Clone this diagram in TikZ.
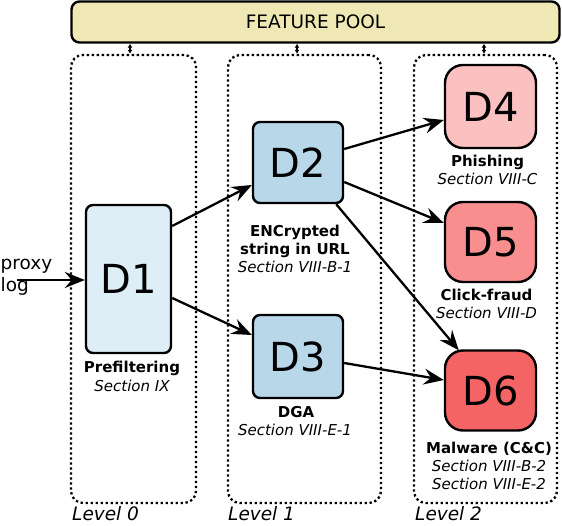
\documentclass[tikz,border=0pt]{standalone}
\usepackage{fontspec}
\setmainfont{DejaVu Sans}
\usetikzlibrary{arrows.meta}
\definecolor{poolfill}{HTML}{EFE8B4}
\definecolor{dA}{HTML}{DDEEF6}
\definecolor{dB}{HTML}{B8D8EA}
\definecolor{dC}{HTML}{FBC0C0}
\definecolor{dD}{HTML}{F98E8E}
\definecolor{dE}{HTML}{F46464}
\begin{document}
\begin{tikzpicture}[x=1pt,y=-1pt,
  lvl/.style={draw,line width=2.3pt,dash pattern=on 2.3pt off 2.7pt,rounded corners=12pt,inner sep=0pt},
  detb/.style={draw,line width=2.4pt,inner sep=0pt,rounded corners=7pt,minimum width=90pt,font=\fontsize{40}{40}\selectfont},
  detr/.style={draw,line width=2.4pt,inner sep=0pt,rounded corners=18pt,minimum width=91pt,font=\fontsize{40}{40}\selectfont},
  bl/.style={font=\fontsize{15}{18}\selectfont\bfseries,anchor=base,inner sep=0pt},
  il/.style={font=\fontsize{15}{18}\selectfont\itshape,anchor=base,inner sep=0pt},
  lv/.style={font=\fontsize{18.5}{20}\selectfont\itshape,anchor=base west,inner sep=0pt},
  flow/.style={line width=2.3pt,-{Stealth[length=20pt,width=16pt,inset=7pt]}},
  feed/.style={line width=1.8pt,{Latex[length=4pt,width=5pt]}-{Latex[length=4pt,width=5pt]}}]
\useasboundingbox (0,0) rectangle (562,526);

% feature pool
\node[draw,line width=2.4pt,fill=poolfill,rounded corners=8pt,minimum width=488pt,minimum height=41pt,inner sep=0pt,
  font=\fontsize{18.5}{20}\selectfont] (pool) at (315.5,22) {FEATURE POOL};

% level boxes
\node[lvl,minimum width=125pt,minimum height=448pt] (L0) at (133.5,279) {};
\node[lvl,minimum width=153pt,minimum height=448pt] (L1) at (304.5,279) {};
\node[lvl,minimum width=143pt,minimum height=448pt] (L2) at (485.5,279) {};

\draw[feed] ([xshift=-3.5pt]L0.north) -- ([xshift=-3.5pt]L0.north |- pool.south);
\draw[feed] ([xshift=-7.5pt]L1.north) -- ([xshift=-7.5pt]L1.north |- pool.south);
\draw[feed] ([xshift=-1.5pt]L2.north) -- ([xshift=-1.5pt]L2.north |- pool.south);

\node[lv] (lv0) at (72,520.5) {Level 0};
\node[lv] (lv1) at (228,520.5) {Level 1};
\node[lv] (lv2) at (415,520.5) {Level 2};

% detectors
\node[detb,fill=dA,minimum width=85pt,minimum height=148pt] (D1) at (128.5,279) {D1};
\node[detb,fill=dB,minimum height=81pt] (D2) at (298,162.5) {D2};
\node[detb,fill=dB,minimum height=83pt] (D3) at (298,356.5) {D3};
\node[detr,fill=dC,minimum height=83pt] (D4) at (490.5,106.5) {D4};
\node[detr,fill=dD,minimum height=80pt] (D5) at (490.5,242) {D5};
\node[detr,fill=dE,minimum height=80pt] (D6) at (490.5,390.5) {D6};

% labels
\node[bl] (t1a) at (132,373) {Prefiltering};
\node[il] (t1b) at (132,391) {Section IX};
\node[bl] (t2a) at (295,237) {ENCrypted};
\node[bl] (t2b) at (295,255) {string in URL};
\node[il] (t2c) at (295,273) {Section VIII-B-1};
\node[bl] (t3a) at (296,417) {DGA};
\node[il] (t3b) at (295,435) {Section VIII-E-1};
\node[bl] (t4a) at (487.5,167) {Phishing};
\node[il] (t4b) at (487.5,185) {Section VIII-C};
\node[bl] (t5a) at (486.5,301) {Click-fraud};
\node[il] (t5b) at (486.5,319) {Section VIII-D};
\node[bl] (t6a) at (489,453) {Malware (C\&C)};
\node[il] (t6b) at (489,471) {Section VIII-B-2};
\node[il] (t6c) at (489,489) {Section VIII-E-2};

% input
\node[font=\fontsize{18.5}{20}\selectfont,anchor=base west,inner sep=0pt] (px) at (0.5,270) {proxy};
\node[font=\fontsize{18.5}{20}\selectfont,anchor=base west,inner sep=0pt] (lg) at (0.5,292) {log};
\coordinate (src) at (17,280);

% flows
\draw[flow] (src) -- (src -| D1.west);
\draw[flow] ([yshift=53pt]D1.east) -- ([yshift=-22.5pt]D2.west);
\draw[flow] ([yshift=-19pt]D1.east) -- ([yshift=21.5pt]D3.west);
\draw[flow] ([yshift=13.5pt]D2.east) -- ([yshift=-13.5pt]D4.west);
\draw[flow] ([yshift=-19.5pt]D2.east) -- ([yshift=19pt]D5.west);
\draw[flow] ([xshift=-8pt]D2.south east) -- ([xshift=15pt,yshift=-1pt]D6.north west);
\draw[flow] ([yshift=-6.5pt]D3.east) -- ([yshift=10.5pt]D6.west);
\end{tikzpicture}
\end{document}
